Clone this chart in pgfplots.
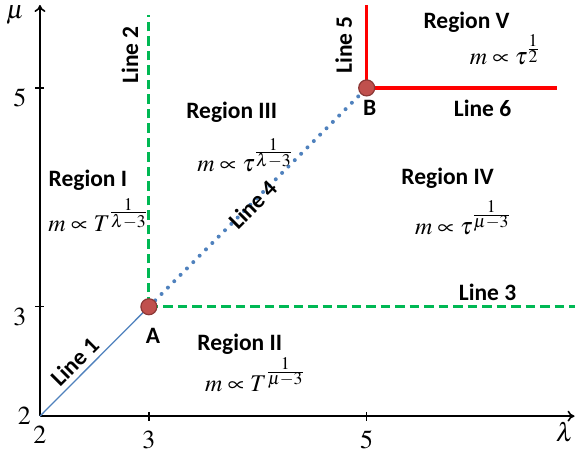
\documentclass[border=0pt]{standalone}
\usepackage{mathptmx}
\usepackage{fontspec}
\setmainfont{Carlito}
\usepackage{pgfplots}
\pgfplotsset{compat=1.18}
\usetikzlibrary{arrows.meta}
\definecolor{lgreen}{RGB}{0,184,84}
\definecolor{lblue}{RGB}{79,129,189}
\definecolor{ptfill}{RGB}{192,80,77}
\definecolor{ptedge}{RGB}{140,56,54}
\newcommand{\ex}[1]{^{\frac{\scriptstyle 1}{\scriptstyle #1}}}
\tikzset{
  lbl/.style={font=\fontsize{23.5}{28}\selectfont\bfseries},
  eq/.style={font=\fontsize{24}{28}\selectfont},
}
\begin{document}
\begin{tikzpicture}
\begin{axis}[
  scale only axis, width=535pt, height=411.5pt,
  xmin=2, xmax=6.908, ymin=2, ymax=5.758,
  axis lines=left,
  axis line style={line width=1.6pt, -{To[length=7pt,width=11pt]}},
  xtick={3,5}, ytick={3,5},
  extra x ticks={2}, extra y ticks={2},
  extra tick style={major tick length=0pt, yticklabel style={yshift=10pt}},
  tick align=center, major tick length=9pt,
  tick style={line width=1.3pt, black},
  ticklabel style={font=\fontsize{26}{30}\selectfont, inner sep=1pt},
  xticklabel style={yshift=-9pt},
  yticklabel style={yshift=-10pt, xshift=-8pt},
  clip=false,
]
% Line 1
\addplot[lblue, line width=1.3pt] coordinates {(2,2) (3,3)};
% Line 4
\addplot[lblue, line width=4pt, line cap=round, dash pattern=on 0pt off 9pt] coordinates {(3,3) (5,5)};
% Line 2
\addplot[lgreen, line width=3pt, dash pattern=on 9.5pt off 5pt] coordinates {(3,3) (3,5.667)};
% Line 3
\addplot[lgreen, line width=3pt, dash pattern=on 9.5pt off 5pt] coordinates {(3,3) (6.908,3)};
% Line 5
\addplot[red, line width=3.5pt] coordinates {(5,5) (5,5.758)};
% Line 6
\addplot[red, line width=3.5pt] coordinates {(5,5) (6.743,5)};
% points A, B
\addplot[only marks, mark=*, mark size=8pt, mark options={fill=ptfill, draw=ptedge, line width=1.2pt}] coordinates {(3,3) (5,5)};

\node[lbl, rotate=90] at (axis cs:2.826,5.301) {Line 2};
\node[lbl, rotate=90] at (axis cs:4.789,5.393) {Line 5};
\node[lbl, rotate=45] at (axis cs:2.321,2.498) {Line 1};
\node[lbl, rotate=45] at (axis cs:3.954,3.932) {Line 4};
\node[lbl] at (axis cs:6.064,4.817) {Line 6};
\node[lbl] at (axis cs:6.110,3.128) {Line 3};
\node[lbl] at (axis cs:3.037,2.735) {A};
\node[lbl] at (axis cs:5.028,4.817) {B};

\node[lbl] at (axis cs:2.440,4.160) {Region I};
\node[eq] at (axis cs:2.532,3.840) {$m\propto T\ex{\lambda-3}$};
\node[lbl] at (axis cs:3.835,2.653) {Region II};
\node[eq] at (axis cs:3.972,2.379) {$m\propto T\ex{\mu-3}$};
\node[lbl] at (axis cs:3.761,4.781) {Region III};
\node[eq] at (axis cs:3.881,4.388) {$m\propto \tau\ex{\lambda-3}$};
\node[lbl] at (axis cs:5.743,4.178) {Region IV};
\node[eq] at (axis cs:5.881,3.813) {$m\propto \tau\ex{\mu-3}$};
\node[lbl] at (axis cs:5.917,5.603) {Region V};
\node[eq] at (axis cs:6.266,5.347) {$m\propto \tau\ex{2}$};

\node[font=\fontsize{26}{30}\selectfont, inner sep=0pt] at (axis cs:6.817,1.858) {$\lambda$};
\node[font=\fontsize{26}{30}\selectfont, inner sep=0pt] at (axis cs:1.771,5.667) {$\mu$};

\path (rel axis cs:0,0) ++(-40pt,-35.5pt) coordinate (bbll);
\path (rel axis cs:1,1) ++(1pt,5pt) coordinate (bbur);
\path (bbll) rectangle (bbur);
\end{axis}
\end{tikzpicture}
\end{document}
